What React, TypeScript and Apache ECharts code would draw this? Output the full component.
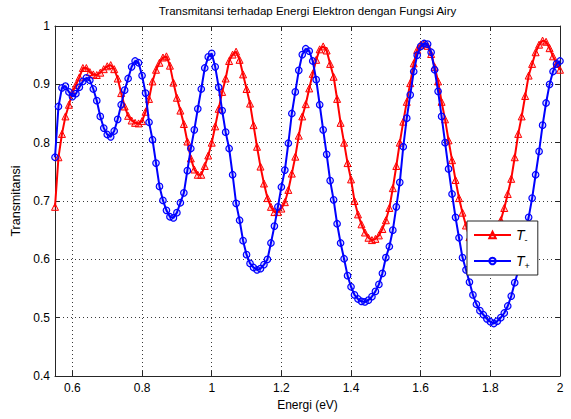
import React, { useEffect, useRef } from "react";
import * as echarts from "echarts";

// Sampling grid of photon energy (eV), 0.55 .. 2.00 in 0.01 steps
const energy: number[] = Array.from({ length: 146 }, (_, i) => Math.round((0.55 + i * 0.01) * 100) / 100);

// T- (red, triangles)
const tMinus: number[] = [
  0.690, 0.775, 0.815, 0.845, 0.865, 0.886, 0.899, 0.912, 0.928, 0.928,
  0.921, 0.917, 0.916, 0.920, 0.926, 0.931, 0.933, 0.926, 0.910, 0.885,
  0.862, 0.846, 0.838, 0.834, 0.833, 0.837, 0.853, 0.875, 0.905, 0.925,
  0.937, 0.946, 0.948, 0.932, 0.903, 0.877, 0.855, 0.832, 0.802, 0.773,
  0.754, 0.745, 0.745, 0.760, 0.778, 0.800, 0.828, 0.858, 0.887, 0.910,
  0.940, 0.951, 0.956, 0.942, 0.917, 0.892, 0.867, 0.830, 0.793, 0.759,
  0.730, 0.705, 0.690, 0.681, 0.681, 0.687, 0.698, 0.719, 0.747, 0.776,
  0.812, 0.845, 0.866, 0.893, 0.918, 0.942, 0.960, 0.965, 0.958, 0.935,
  0.913, 0.875, 0.834, 0.800, 0.765, 0.737, 0.700, 0.677, 0.660, 0.646,
  0.637, 0.633, 0.635, 0.641, 0.652, 0.667, 0.688, 0.722, 0.760, 0.800,
  0.836, 0.870, 0.902, 0.936, 0.959, 0.968, 0.970, 0.966, 0.952, 0.930,
  0.905, 0.870, 0.840, 0.804, 0.770, 0.736, 0.705, 0.680, 0.658, 0.638,
  0.622, 0.611, 0.605, 0.604, 0.608, 0.617, 0.630, 0.648, 0.667, 0.688,
  0.712, 0.738, 0.775, 0.815, 0.845, 0.880, 0.915, 0.935, 0.955, 0.968,
  0.975, 0.973, 0.962, 0.948, 0.935, 0.925,
];

// T+ (blue, circles)
const tPlus: number[] = [
  0.775, 0.862, 0.894, 0.897, 0.887, 0.879, 0.884, 0.895, 0.905, 0.911,
  0.907, 0.892, 0.872, 0.845, 0.825, 0.814, 0.810, 0.820, 0.840, 0.865,
  0.890, 0.910, 0.930, 0.940, 0.937, 0.915, 0.885, 0.835, 0.805, 0.765,
  0.725, 0.701, 0.684, 0.673, 0.671, 0.680, 0.697, 0.714, 0.752, 0.790,
  0.822, 0.858, 0.892, 0.928, 0.947, 0.953, 0.930, 0.895, 0.855, 0.818,
  0.790, 0.745, 0.696, 0.667, 0.632, 0.608, 0.593, 0.586, 0.582, 0.584,
  0.591, 0.600, 0.628, 0.657, 0.690, 0.724, 0.753, 0.799, 0.850, 0.887,
  0.924, 0.951, 0.961, 0.957, 0.940, 0.908, 0.865, 0.822, 0.780, 0.735,
  0.702, 0.661, 0.628, 0.601, 0.572, 0.553, 0.539, 0.532, 0.528, 0.527,
  0.530, 0.536, 0.545, 0.557, 0.576, 0.603, 0.622, 0.650, 0.690, 0.732,
  0.793, 0.842, 0.882, 0.922, 0.950, 0.965, 0.970, 0.969, 0.955, 0.925,
  0.888, 0.845, 0.800, 0.755, 0.712, 0.672, 0.637, 0.603, 0.582, 0.561,
  0.539, 0.523, 0.512, 0.505, 0.498, 0.493, 0.490, 0.494, 0.500, 0.508,
  0.520, 0.537, 0.560, 0.580, 0.610, 0.645, 0.672, 0.705, 0.745, 0.785,
  0.830, 0.868, 0.900, 0.922, 0.935, 0.940,
];

const xTicks: number[] = [0.6, 0.8, 1, 1.2, 1.4, 1.6, 1.8, 2];
const titleText = "Transmitansi terhadap Energi Elektron dengan Fungsi Airy";
const xName = "Energi (eV)";
const yName = "Transmitansi";
const seriesNames = ["T-", "T+"];

export default function App() {
  const ref = useRef<HTMLDivElement>(null);
  useEffect(() => {
    const chart = echarts.init(ref.current!, null, { renderer: "svg" });
    const font = "'Liberation Sans', Arial, Helvetica, sans-serif";
    const frame = "#262626";
    const gridLine = { show: true, lineStyle: { type: [1, 3], color: "#3a3a3a", width: 1 } };
    const fmt = (v: number) => String(Math.round(v * 10) / 10);

    chart.setOption({
      animation: false,
      backgroundColor: "#fff",
      textStyle: { fontFamily: font },
      grid: { left: 55, right: 11, top: 26, bottom: 43, containLabel: false, outerBoundsMode: "none" },
      graphic: [
        {
          type: "text",
          x: 307.5,
          y: 11,
          style: {
            text: titleText,
            align: "center",
            verticalAlign: "middle",
            fontSize: 11.5,
            fontFamily: font,
            fill: "#000",
          },
        },
      ],
      xAxis: [
        {
          type: "value",
          min: 0.55,
          max: 2,
          position: "bottom",
          axisLine: { show: true, onZero: false, lineStyle: { color: frame, width: 1 } },
          axisTick: { show: true, inside: true, length: 5, customValues: xTicks, lineStyle: { color: frame } },
          axisLabel: { customValues: xTicks, formatter: fmt, color: "#000", fontSize: 12, margin: 6, fontFamily: font },
          splitLine: gridLine,
          name: xName,
          nameLocation: "middle",
          nameGap: 23,
          nameTextStyle: { color: "#000", fontSize: 12, fontFamily: font },
        },
        {
          type: "value",
          min: 0.55,
          max: 2,
          position: "top",
          axisLine: { show: true, onZero: false, lineStyle: { color: frame, width: 1 } },
          axisTick: { show: true, inside: true, length: 5, customValues: xTicks, lineStyle: { color: frame } },
          axisLabel: { show: false },
          splitLine: { show: false },
        },
      ],
      yAxis: [
        {
          type: "value",
          min: 0.4,
          max: 1,
          interval: 0.1,
          position: "left",
          axisLine: { show: true, onZero: false, lineStyle: { color: frame, width: 1 } },
          axisTick: { show: true, inside: true, length: 5, lineStyle: { color: frame } },
          axisLabel: { formatter: fmt, color: "#000", fontSize: 12, margin: 5, fontFamily: font },
          splitLine: gridLine,
          name: yName,
          nameLocation: "middle",
          nameGap: 28,
          nameTextStyle: { color: "#000", fontSize: 12.5, fontFamily: font },
        },
        {
          type: "value",
          min: 0.4,
          max: 1,
          interval: 0.1,
          position: "right",
          axisLine: { show: true, onZero: false, lineStyle: { color: frame, width: 1 } },
          axisTick: { show: true, inside: true, length: 5, lineStyle: { color: frame } },
          axisLabel: { show: false },
          splitLine: { show: false },
        },
      ],
      legend: {
        orient: "vertical",
        left: 467,
        top: 221,
        padding: [5, 8, 5, 6],
        itemWidth: 37,
        itemHeight: 8,
        itemGap: 8,
        backgroundColor: "#fff",
        borderColor: frame,
        borderWidth: 1,
        borderRadius: 0,
        data: seriesNames,
        formatter: (name: string) => (name === "T-" ? "{t|T}{s|-}" : "{t|T}{s|+}"),
        textStyle: {
          color: "#000",
          rich: {
            t: { fontStyle: "italic", fontSize: 14, fontFamily: font, color: "#000", lineHeight: 16 },
            s: { fontSize: 9, fontFamily: font, color: "#000", padding: [9, 0, 0, 0], lineHeight: 16 },
          },
        },
      },
      series: [
        {
          type: "line",
          name: seriesNames[0],
          data: energy.map((x, i) => [x, tMinus[i]]),
          symbol: "triangle",
          symbolSize: 7,
          showAllSymbol: true,
          lineStyle: { color: "#ff0000", width: 2 },
          itemStyle: { color: "rgba(255,0,0,0.2)", borderColor: "#ff0000", borderWidth: 1 },
          z: 2,
        },
        {
          type: "line",
          name: seriesNames[1],
          data: energy.map((x, i) => [x, tPlus[i]]),
          symbol: "circle",
          symbolSize: 6.5,
          showAllSymbol: true,
          lineStyle: { color: "#0000ff", width: 2 },
          itemStyle: { color: "rgba(0,0,255,0.15)", borderColor: "#0000ff", borderWidth: 1.2 },
          z: 3,
        },
      ],
    });
    return () => chart.dispose();
  }, []);
  return <div ref={ref} style={{ position: "absolute", left: 0, top: 0, width: 571, height: 419 }} />;
}
